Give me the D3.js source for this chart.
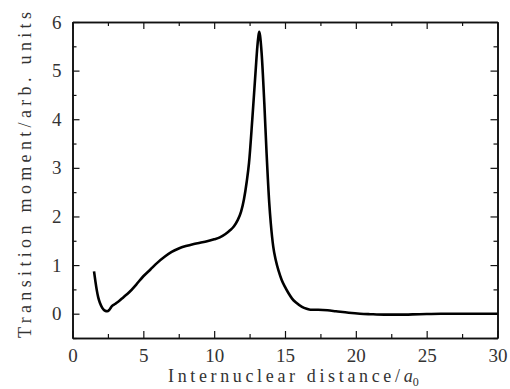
<!DOCTYPE html>
<html>
<head>
<meta charset="utf-8">
<script src="https://cdn.jsdelivr.net/npm/d3@7"></script>
<style>
  body { margin: 0; background: #fff; }
</style>
</head>
<body>
<svg width="510" height="389"></svg>
<script>
// internuclear distance (a0) and transition moment
const distance = [1.52, 1.62, 1.71, 1.82, 1.94, 2.1, 2.3, 2.45, 2.6, 2.8, 3.0, 3.2, 3.6, 4.0, 4.5, 5.0,
  5.5, 6.0, 6.5, 7.0, 7.5, 8.0, 8.5, 9.0, 9.5, 10.0, 10.4, 10.8, 11.1, 11.4, 11.65, 11.9,
  12.1, 12.3, 12.46, 12.69, 12.93, 13.05, 13.12, 13.18, 13.24, 13.35, 13.54, 13.7, 13.89,
  14.0, 14.17, 14.35, 14.55, 14.76, 15.0, 15.23, 15.5,
  15.82, 16.2, 16.53, 16.8, 17.35, 18.0, 18.6, 19.5, 20.3, 21.0, 22.0, 23.0, 24.5, 26, 28, 30]
const moment = [0.87, 0.66, 0.49, 0.33, 0.22, 0.12, 0.06, 0.05, 0.08, 0.16, 0.2, 0.24, 0.34, 0.44, 0.6, 0.77,
  0.91, 1.05, 1.17, 1.27, 1.34, 1.39, 1.43, 1.46, 1.49, 1.53, 1.57, 1.64, 1.71, 1.8, 1.92, 2.1,
  2.35, 2.72, 3.1, 3.99, 5.01, 5.5, 5.7, 5.8, 5.72, 5.36, 4.33, 3.3, 2.27,
  1.85, 1.38, 1.1, 0.88, 0.7, 0.55, 0.43, 0.31,
  0.22, 0.14, 0.1, 0.08, 0.08, 0.07, 0.05, 0.02, 0.0, -0.01, -0.02, -0.02, -0.01, 0.0, 0.0, 0.0]
const xTicks = [0, 5, 10, 15, 20, 25, 30]
const yTicks = [0, 1, 2, 3, 4, 5, 6]

const margin = {top: 22, right: 12.5, bottom: 51, left: 72.5}
const width = 510
const height = 389
const serif = '"Liberation Serif"'

const data = distance.map((d, i) => ({x: d, y: moment[i]}))

const x = d3.scaleLinear().domain([0, 30]).range([margin.left, width - margin.right])
const y = d3.scaleLinear().domain([-0.5, 6]).range([height - margin.bottom, margin.top])

const svg = d3.select('svg')

const minorX = d3.range(0, 30.01, 2.5).filter(v => v % 5)
const minorY = d3.range(-0.5, 6.01, 0.5).filter(v => v % 1)
const y0 = y.range()[0]
const y1 = y.range()[1]
const x1 = x.range()[1]

// ticks point inward on every side: major ticks 7px, minor 4px
function frame(axis, pos, vals, size, labels) {
  const a = axis.tickValues(vals).tickSize(-size).tickSizeOuter(0)
  if (!labels) a.tickFormat('')
  else a.tickPadding(11).tickFormat(d3.format('d'))
  return svg.append('g').attr('transform', pos).call(a)
}

frame(d3.axisBottom(x), `translate(0, ${y0})`, xTicks, 7, true).attr('class', 'x-axis')
frame(d3.axisBottom(x), `translate(0, ${y0})`, minorX, 4, false)
frame(d3.axisTop(x), `translate(0, ${y1})`, xTicks, 7, false)
frame(d3.axisTop(x), `translate(0, ${y1})`, minorX, 4, false)
frame(d3.axisLeft(y), `translate(${margin.left}, 0)`, yTicks, 7, true).attr('class', 'y-axis')
frame(d3.axisLeft(y), `translate(${margin.left}, 0)`, minorY, 4, false)
frame(d3.axisRight(y), `translate(${x1}, 0)`, yTicks, 7, false)
frame(d3.axisRight(y), `translate(${x1}, 0)`, minorY, 4, false)

svg.selectAll('.domain').attr('stroke', '#111').attr('stroke-width', 1.6)
svg.selectAll('.tick line').attr('stroke', '#111').attr('stroke-width', 1.2)
svg.selectAll('.tick text')
  .style('font-family', serif)
  .style('font-size', '19px')
  .attr('fill', '#333')

const line = d3.line()
  .x(d => x(d.x))
  .y(d => y(d.y))
  .curve(d3.curveMonotoneX)

svg.append('path')
  .datum(data)
  .attr('fill', 'none')
  .attr('stroke', '#000')
  .attr('stroke-width', 2.6)
  .attr('stroke-linejoin', 'round')
  .attr('d', line)

const xl = svg.append('text')
  .attr('x', 168).attr('y', 382)
  .style('font-family', serif)
  .style('font-size', '18px')
  .attr('fill', '#333')
xl.append('tspan').attr('textLength', 232).attr('lengthAdjust', 'spacing').text('Internuclear distance/')
xl.append('tspan').style('font-style', 'italic').text('a')
xl.append('tspan').style('font-size', '12px').attr('dy', 4).text('0')

svg.append('text')
  .attr('transform', 'translate(31, 175) rotate(-90)')
  .attr('text-anchor', 'middle')
  .style('font-family', serif)
  .style('font-size', '18px')
  .attr('fill', '#333')
  .attr('textLength', 326)
  .attr('lengthAdjust', 'spacing')
  .text('Transition moment/arb. units')
</script>
</body>
</html>
